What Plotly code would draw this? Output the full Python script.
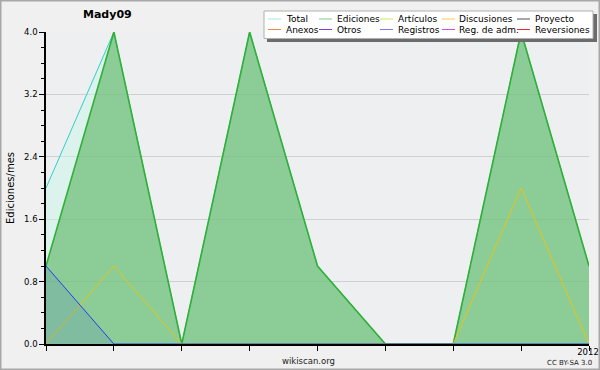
import plotly.graph_objects as go

# ---- data ----
months = ["2011-05", "2011-06", "2011-07", "2011-08", "2011-09",
          "2011-10", "2011-11", "2011-12", "2012-01"]
tick_labels = ["", "", "", "", "", "", "", "", "2012"]
total = [2, 4, 0, 4, 1, 0, 0, 4, 1]
ediciones = [1, 4, 0, 4, 1, 0, 0, 4, 1]
discusiones = [0, 1, 0, 0, 0, 0, 0, 2, 0]
registros = [1, 0, 0, 0, 0, 0, 0, 0, 0]

legend_row1 = ["Total", "Ediciones", "Artículos", "Discusiones", "Proyecto"]
legend_row2 = ["Anexos", "Otros", "Registros", "Reg. de adm.", "Reversiones"]
legend_colors1 = ["#a8e4e0", "#80c888", "#c8ec50", "#f4c84c", "#505050"]
legend_colors2 = ["#f08848", "#8040d8", "#7c7cf0", "#d050e0", "#e03030"]

FONT = "DejaVu Sans"
W, H = 600, 370
L, R, T, B = 46, 11, 32, 26
PW, PH = W - L - R, H - T - B


def px(x):
    return (x - L) / PW


def py(y):
    return (H - B - y) / PH


fig = go.Figure()
fig.add_trace(go.Scatter(x=months, y=total, mode="lines", fill="tozeroy",
                         line=dict(color="#30d0c8", width=1),
                         fillcolor="rgba(202,245,232,0.5)", showlegend=False))
fig.add_trace(go.Scatter(x=months, y=ediciones, mode="lines", fill="tozeroy",
                         line=dict(color="#30b038", width=1.6),
                         fillcolor="rgba(86,179,93,0.6)", showlegend=False))
fig.add_trace(go.Scatter(x=months, y=discusiones, mode="lines",
                         line=dict(color="#e8c410", width=1), showlegend=False))
fig.add_trace(go.Scatter(x=months, y=registros, mode="lines", fill="tozeroy",
                         line=dict(color="#2040f0", width=1),
                         fillcolor="rgba(40,70,230,0.12)", showlegend=False))

shapes = []
annotations = []
# outer border
shapes.append(dict(type="rect", xref="paper", yref="paper",
                   x0=px(0.5), x1=px(W - 0.5), y0=py(0.5), y1=py(H - 0.5),
                   line=dict(color="#a8a8a8", width=2), fillcolor="rgba(0,0,0,0)",
                   layer="above"))
# legend shadow and box
shapes.append(dict(type="rect", xref="paper", yref="paper",
                   x0=px(267), x1=px(597), y0=py(14), y1=py(42),
                   line=dict(width=0), fillcolor="#6c6c6c", layer="above"))
shapes.append(dict(type="rect", xref="paper", yref="paper",
                   x0=px(264), x1=px(593), y0=py(11), y1=py(38.5),
                   line=dict(color="#b0b0b0", width=1), fillcolor="#ffffff",
                   layer="above"))
line_x = [268, 319, 380, 442, 517]
text_x = [284, 335, 396, 457, 533]
for row, (names, cols) in enumerate([(legend_row1, legend_colors1),
                                     (legend_row2, legend_colors2)]):
    yy = 19 + row * 10.5
    for i, (n, c) in enumerate(zip(names, cols)):
        shapes.append(dict(type="line", xref="paper", yref="paper",
                           x0=px(line_x[i]), x1=px(line_x[i] + 13),
                           y0=py(yy), y1=py(yy),
                           line=dict(color=c, width=1), layer="above"))
        annotations.append(dict(xref="paper", yref="paper", x=px(text_x[i]),
                                y=py(yy), xanchor="left", yanchor="middle",
                                text=n, showarrow=False,
                                font=dict(family=FONT, size=9, color="#000")))

# title
annotations.append(dict(xref="paper", yref="paper", x=px(107), y=py(15),
                        xanchor="center", yanchor="middle", text="<b>Mady09</b>",
                        showarrow=False, font=dict(family=FONT, size=11, color="#000")))
# y title
annotations.append(dict(xref="paper", yref="paper", x=px(10), y=py(188),
                        xanchor="center", yanchor="middle", text="Ediciones/mes",
                        textangle=-90, showarrow=False,
                        font=dict(family=FONT, size=10, color="#000")))
annotations.append(dict(xref="paper", yref="paper", x=px(308), y=py(361),
                        xanchor="center", yanchor="middle", text="wikiscan.org",
                        showarrow=False, font=dict(family=FONT, size=8.5, color="#222")))
annotations.append(dict(xref="paper", yref="paper", x=px(569), y=py(362.5),
                        xanchor="center", yanchor="middle", text="CC BY-SA 3.0",
                        showarrow=False, font=dict(family=FONT, size=7, color="#222")))

fig.update_layout(
    width=W, height=H,
    margin=dict(l=L, r=R, t=T, b=B, pad=0, autoexpand=False),
    paper_bgcolor="#f0f0f0", plot_bgcolor="#eeeff1",
    showlegend=False,
    shapes=shapes, annotations=annotations,
    font=dict(family=FONT, size=9, color="#000"),
)
fig.update_xaxes(type="category", range=[0, len(months) - 1],
                 tickmode="array", tickvals=months, ticktext=tick_labels,
                 ticks="outside", ticklen=5, tickcolor="#000", tickwidth=1,
                 ticklabelstandoff=-6, ticklabelshift=-1, automargin=False,
                 showline=True, linecolor="#000", linewidth=1.5,
                 showgrid=False, zeroline=False,
                 tickfont=dict(family=FONT, size=8.5, color="#000"))
fig.update_yaxes(range=[0, 4], tick0=0, dtick=0.8, tickformat=".1f",
                 ticks="outside", ticklen=5, tickcolor="#000", automargin=False,
                 showline=True, linecolor="#000", linewidth=1.5,
                 showgrid=True, gridcolor="#cfcfcf", gridwidth=1, zeroline=False,
                 minor=dict(dtick=0.2, ticks="outside", ticklen=3, tickcolor="#000",
                            showgrid=False),
                 tickfont=dict(family=FONT, size=8.5, color="#000"))

fig.write_html("out.html",
               config={"displayModeBar": False},
               post_script=(
                   "var s=document.documentElement.style;s.margin='0';s.padding='0';"
                   "s.overflow='hidden';s.width='600px';s.height='370px';"
                   "var b=document.body.style;b.margin='0';b.padding='0';"
                   "b.overflow='hidden';b.width='600px';b.height='370px';"
                   "var g=document.getElementById('{plot_id}');"
                   "g.parentElement.style.height='370px';"
                   "g.parentElement.style.width='600px';"
                   "g.parentElement.style.overflow='hidden';"))
